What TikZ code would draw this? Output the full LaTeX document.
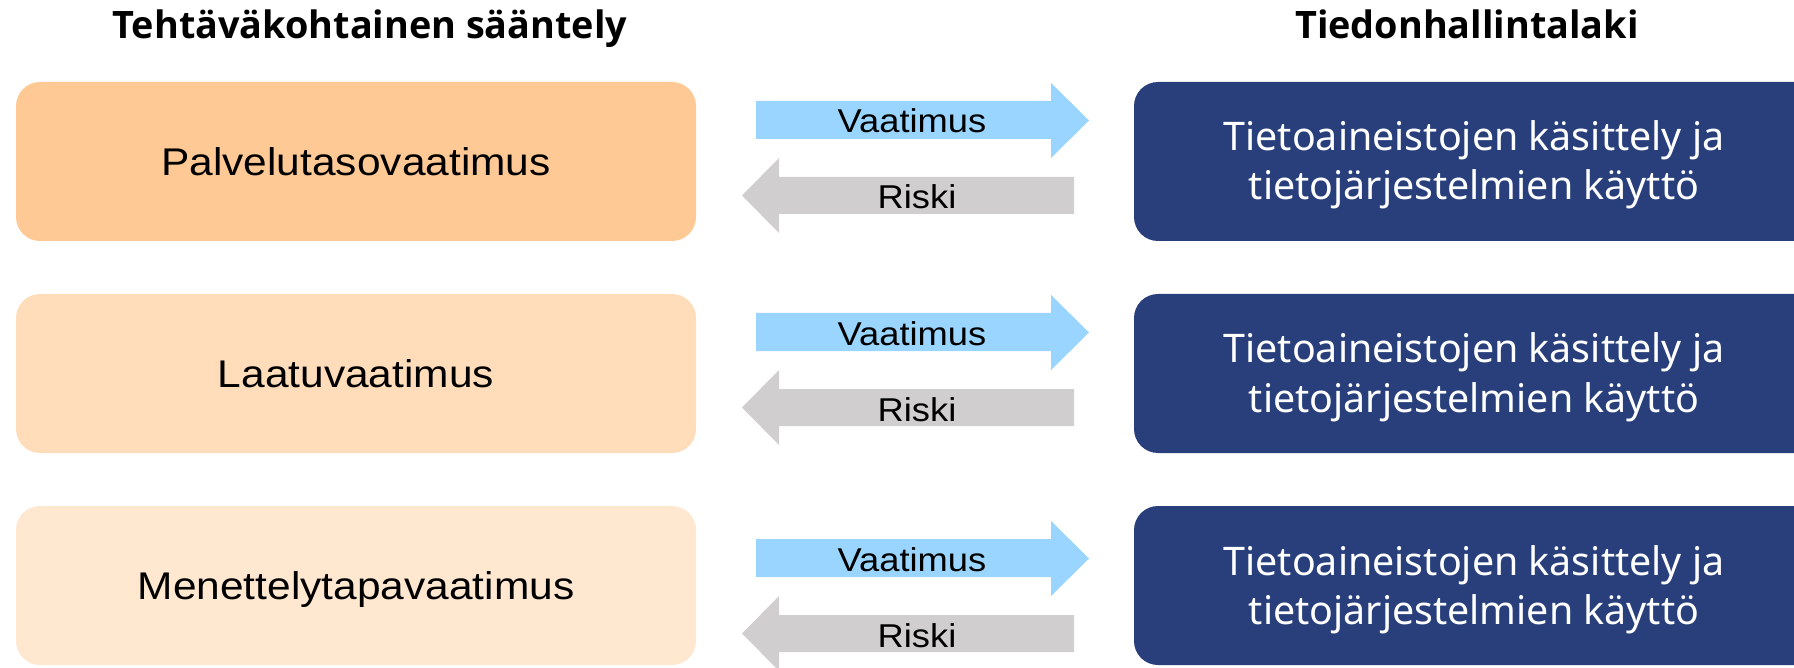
\documentclass[tikz,border=0pt]{standalone}
\usepackage{fontspec}
\setmainfont{Liberation Sans}
\newfontfamily\widesans{Liberation Sans}[FakeStretch=1.1]
\newfontfamily\grotesk{Noto Sans}
\newfontfamily\headfont{Open Sans}[BoldFont={* Bold}]

\definecolor{ordark}{HTML}{FFC995}
\definecolor{ormid}{HTML}{FFDDBB}
\definecolor{orlight}{HTML}{FFE7D0}
\definecolor{navy}{HTML}{283F7B}
\definecolor{reqblue}{HTML}{99D5FF}
\definecolor{riskgray}{HTML}{D0CECE}

\tikzset{
  heading/.style={anchor=base, inner sep=0pt, font=\headfont\bfseries\fontsize{18.9pt}{22pt}\selectfont},
  rulebox/.style={rectangle, rounded corners=12pt, inner sep=0pt,
    minimum width=340pt, minimum height=79.5pt,
    text height=14pt, text depth=0pt,
    font=\widesans\fontsize{19.3pt}{23pt}\selectfont},
  lawbox/.style={rectangle, rounded corners=12pt, inner sep=0pt, fill=navy,
    minimum width=343pt, minimum height=79.5pt},
  lawtext/.style={anchor=base, inner sep=0pt, text=white,
    font=\grotesk\fontsize{19.7pt}{24.5pt}\selectfont},
  arrowlabel/.style={anchor=base, inner sep=0pt,
    font=\widesans\fontsize{16.5pt}{20pt}\selectfont},
}

\begin{document}
\begin{tikzpicture}[x=0.5pt, y=-0.5pt]
  \useasboundingbox (0,0) rectangle (1794,668);
  \clip (0,0) rectangle (1794,668);

  % column headings
  \node[heading] (hl) at (370,39) {Tehtäväkohtainen sääntely};
  \node[heading] (hr) at (1467,39) {Tiedonhallintalaki};

  % task-specific requirements (left column)
  \node[rulebox, fill=ordark]  (l1) at (356,161.5) {Palvelutasovaatimus};
  \node[rulebox, fill=ormid]   (l2) at (356,373.5) {Laatuvaatimus};
  \node[rulebox, fill=orlight] (l3) at (356,585.5) {Menettelytapavaatimus};

  % information management (right column)
  \foreach \i/\cy in {1/161.5, 2/373.5, 3/585.5} {
    \node[lawbox] (r\i) at (1477,\cy) {};
    \node[lawtext] (r\i a) at (1474,\cy-10.5) {Tietoaineistojen käsittely ja};
    \node[lawtext] (r\i b) at (1474,\cy+38.5) {tietojärjestelmien käyttö};
  }

  % requirement / risk block arrows between the columns
  \foreach \i/\d in {1/0, 2/212, 3/438} {
    \fill[reqblue] (756,101+\d) -- (1051,101+\d) -- (1051,83+\d)
      -- (1089,120.5+\d) -- (1051,158+\d) -- (1051,139+\d)
      -- (756,139+\d) -- cycle;
    \node[arrowlabel] (v\i) at (912,133+\d) {Vaatimus};
    \fill[riskgray] (1074,177+\d) -- (779,177+\d) -- (779,158+\d)
      -- (742,195.5+\d) -- (779,233+\d) -- (779,214+\d)
      -- (1074,214+\d) -- cycle;
    \node[arrowlabel] (k\i) at (917,209+\d) {Riski};
  }
\end{tikzpicture}
\end{document}
